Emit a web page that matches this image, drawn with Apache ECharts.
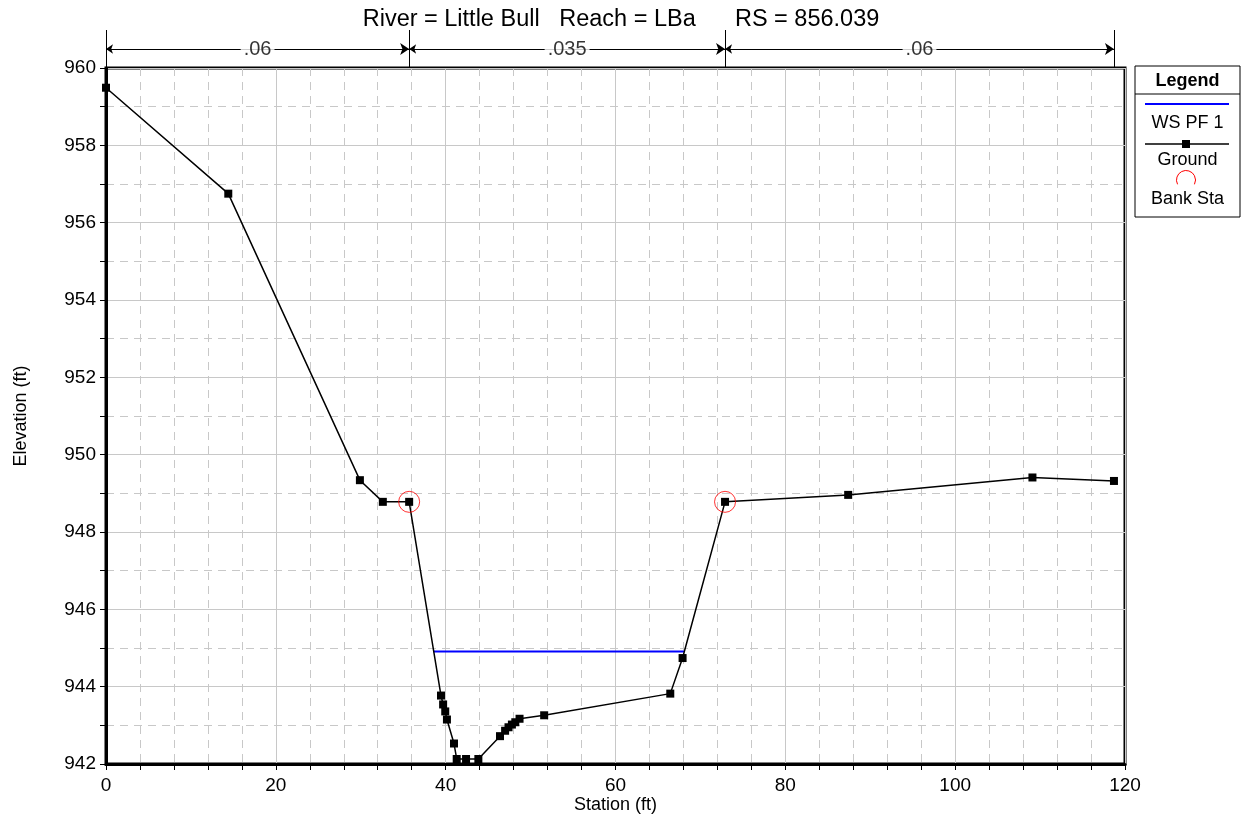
<!DOCTYPE html>
<html><head><meta charset="utf-8">
<script src="https://cdn.jsdelivr.net/npm/echarts@6/dist/echarts.min.js"></script>
<style>html,body{margin:0;padding:0;background:#fff}#c{width:1244px;height:838px}</style>
</head><body><div id="c"></div>
<script>
const station = [0, 14.4, 29.9, 32.6, 35.7, 39.45, 39.7, 39.95, 40.15, 40.98, 41.3, 42.4, 43.85, 46.4, 47.0, 47.4, 47.8, 48.2, 48.7, 51.6, 66.45, 67.9, 72.9, 87.4, 109.1, 118.7];
const elevation = [959.49, 956.75, 949.34, 948.78, 948.78, 943.77, 943.54, 943.36, 943.15, 942.53, 942.13, 942.13, 942.13, 942.72, 942.86, 942.95, 943.02, 943.08, 943.17, 943.26, 943.82, 944.74, 948.78, 948.96, 949.41, 949.32];
const bankStation = [35.7, 72.9];
const bankElevation = [948.78, 948.78];
const wsStation = [38.6, 68.1];
const wsElevation = [944.91, 944.91];
const nBreaks = [0, 35.7, 72.9, 118.7];
const nValues = ['.06', '.035', '.06'];
const xTicks = {min: 0, max: 120, interval: 20};
const yTicks = {min: 942, max: 960, interval: 2};
const titleText = 'River = Little Bull   Reach = LBa      RS = 856.039';

const FONT = '"Liberation Sans", Arial, sans-serif';
const GRID = {left: 106, top: 68, width: 1019, height: 696};
const chart = echarts.init(document.getElementById('c'));

const ground = station.map((s, i) => [s, elevation[i]]);
const ws = wsStation.map((s, i) => [s, wsElevation[i]]);
const bank = bankStation.map((s, i) => [s, bankElevation[i]]);
const vlines = nBreaks.map(b => ({coords: [[b, 0], [b, 0.95]]}));
const arrows = nValues.map((v, i) => ({coords: [[nBreaks[i], 0.475], [nBreaks[i + 1], 0.475]]}));
const nLabels = nValues.map((v, i) => ({value: [(nBreaks[i] + nBreaks[i + 1]) / 2, 0.475], label: {formatter: v}}));

const legendX = 1135, legendY = 66, legendW = 105, legendH = 151;

chart.setOption({
  animation: false,
  backgroundColor: '#fff',
  title: {
    text: titleText, left: 616, top: 3, textAlign: 'center',
    textStyle: {fontFamily: FONT, fontSize: 23.5, fontWeight: 'normal', color: '#000'}
  },
  grid: [
    Object.assign({show: true, borderColor: '#000', borderWidth: 3, backgroundColor: 'transparent'}, GRID),
    {left: GRID.left, width: GRID.width, top: 28, height: 40}
  ],
  xAxis: [{
    gridIndex: 0, type: 'value', min: xTicks.min, max: xTicks.max, interval: xTicks.interval,
    name: 'Station (ft)', nameLocation: 'middle', nameGap: 32, nameMoveOverlap: false,
    nameTextStyle: {fontFamily: FONT, fontSize: 18, color: '#000'},
    axisLine: {show: true, onZero: false, lineStyle: {color: '#000', width: 3}},
    axisTick: {show: true, length: 6, lineStyle: {color: '#000', width: 1}},
    minorTick: {show: true, splitNumber: 5, length: 6, lineStyle: {color: '#000', width: 1}},
    axisLabel: {fontFamily: FONT, fontSize: 19, color: '#000', margin: 12},
    splitLine: {show: true, lineStyle: {color: '#c8c8c8', width: 1}},
    minorSplitLine: {show: true, lineStyle: {color: '#c8c8c8', width: 1, type: [8, 6]}}
  }, {
    gridIndex: 1, type: 'value', min: xTicks.min, max: xTicks.max, show: false
  }],
  yAxis: [{
    gridIndex: 0, type: 'value', min: yTicks.min, max: yTicks.max, interval: yTicks.interval,
    name: 'Elevation (ft)', nameLocation: 'middle', nameGap: 76, nameRotate: 90, nameMoveOverlap: false,
    nameTextStyle: {fontFamily: FONT, fontSize: 18, color: '#000'},
    axisLine: {show: true, onZero: false, lineStyle: {color: '#000', width: 3}},
    axisTick: {show: true, length: 6, lineStyle: {color: '#000', width: 1}},
    minorTick: {show: true, splitNumber: 2, length: 6, lineStyle: {color: '#000', width: 1}},
    axisLabel: {fontFamily: FONT, fontSize: 19, color: '#000', margin: 10},
    splitLine: {show: true, lineStyle: {color: '#c8c8c8', width: 1}},
    minorSplitLine: {show: true, lineStyle: {color: '#c8c8c8', width: 1, type: [8, 6]}}
  }, {
    gridIndex: 1, type: 'value', min: 0, max: 1, show: false
  }],
  series: [
    {
      name: 'WS PF 1', type: 'line', xAxisIndex: 0, yAxisIndex: 0, data: ws,
      symbol: 'none', lineStyle: {color: '#0000ff', width: 2}, z: 3
    },
    {
      name: 'Ground', type: 'line', xAxisIndex: 0, yAxisIndex: 0, data: ground,
      symbol: 'rect', symbolSize: 8, itemStyle: {color: '#000'},
      lineStyle: {color: '#000', width: 1.5}, z: 4
    },
    {
      name: 'Bank Sta', type: 'scatter', xAxisIndex: 0, yAxisIndex: 0, data: bank,
      symbol: 'circle', symbolSize: 21,
      itemStyle: {color: 'rgba(0,0,0,0)', borderColor: '#ff0000', borderWidth: 1}, z: 5
    },
    {
      type: 'lines', coordinateSystem: 'cartesian2d', xAxisIndex: 1, yAxisIndex: 1,
      data: vlines, symbol: 'none', lineStyle: {color: '#000', width: 1, opacity: 1}, silent: true
    },
    {
      type: 'lines', coordinateSystem: 'cartesian2d', xAxisIndex: 1, yAxisIndex: 1,
      data: arrows, symbol: ['arrow', 'arrow'], symbolSize: [7, 9],
      lineStyle: {color: '#000', width: 1, opacity: 1}, silent: true
    },
    {
      type: 'scatter', xAxisIndex: 1, yAxisIndex: 1, data: nLabels, symbolSize: 1,
      itemStyle: {color: 'rgba(0,0,0,0)'}, silent: true, z: 6,
      label: {show: true, position: 'inside', fontFamily: FONT, fontSize: 20, color: '#000',
        backgroundColor: '#fff', padding: [0, 3]}
    }
  ],
  graphic: [
    {type: 'rect', shape: {x: legendX, y: legendY, width: legendW, height: legendH},
      style: {fill: '#fff', stroke: '#000', lineWidth: 1}},
    {type: 'line', shape: {x1: legendX, y1: 94, x2: legendX + legendW, y2: 94}, style: {stroke: '#000', lineWidth: 1}},
    {type: 'text', x: legendX + legendW / 2, y: 81, style: {text: 'Legend', align: 'center', verticalAlign: 'middle',
      font: 'bold 18px ' + FONT, fill: '#000'}},
    {type: 'line', shape: {x1: 1145, y1: 104, x2: 1229, y2: 104}, style: {stroke: '#0000ff', lineWidth: 2}},
    {type: 'text', x: legendX + legendW / 2, y: 123, style: {text: 'WS PF 1', align: 'center', verticalAlign: 'middle',
      font: '18px ' + FONT, fill: '#000'}},
    {type: 'line', shape: {x1: 1145, y1: 144, x2: 1229, y2: 144}, style: {stroke: '#000', lineWidth: 1.5}},
    {type: 'rect', shape: {x: 1182, y: 140, width: 8, height: 8}, style: {fill: '#000'}},
    {type: 'text', x: legendX + legendW / 2, y: 160, style: {text: 'Ground', align: 'center', verticalAlign: 'middle',
      font: '18px ' + FONT, fill: '#000'}},
    {type: 'arc', shape: {cx: 1186, cy: 180, r: 9.5, startAngle: Math.PI * 0.85, endAngle: Math.PI * 2.15},
      style: {stroke: '#ff0000', fill: 'none', lineWidth: 1}},
    {type: 'text', x: legendX + legendW / 2, y: 199, style: {text: 'Bank Sta', align: 'center', verticalAlign: 'middle',
      font: '18px ' + FONT, fill: '#000'}}
  ]
});
</script>
</body></html>
